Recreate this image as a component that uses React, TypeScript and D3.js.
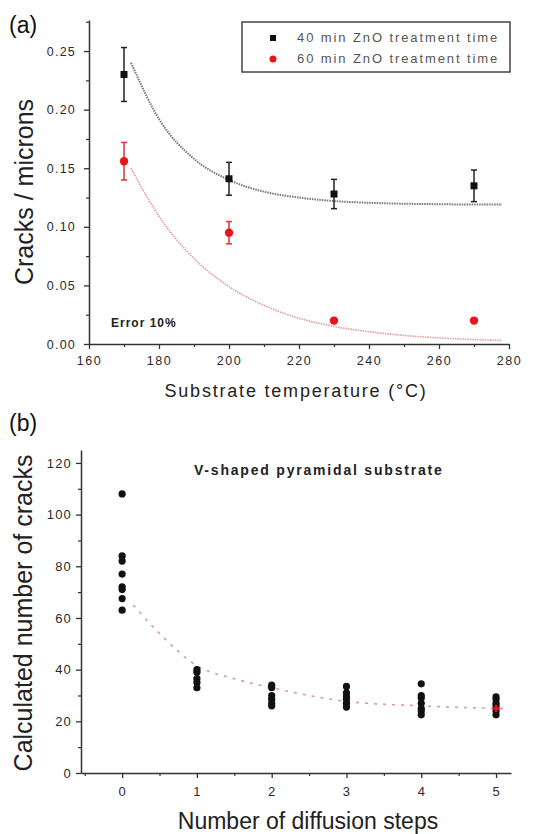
import React, { useEffect, useRef } from 'react';
import * as d3 from 'd3';

// panel (a): cracks per micron vs substrate temperature
const TEMPS = [170, 200, 230, 270];
const CRACKS_40 = [0.23, 0.141, 0.128, 0.135];
const ERR_40 = [0.023, 0.014, 0.0125, 0.0135];
const CRACKS_60 = [0.156, 0.095, 0.02, 0.02];
const ERR_60 = [0.016, 0.0095, 0, 0];

// fitted decay curves
const FIT_X = [172, 180, 190, 200, 210, 220, 230, 240, 250, 260, 270, 278];
const FIT_40 = [0.24, 0.192, 0.158, 0.14, 0.13, 0.125, 0.122, 0.1205, 0.1197, 0.1193, 0.119, 0.119];
const FIT_60 = [0.15, 0.109, 0.073, 0.049, 0.033, 0.022, 0.015, 0.0105, 0.0073, 0.0052, 0.0038, 0.003];

const LEGEND = ['40 min ZnO treatment time', '60 min ZnO treatment time'];

// panel (b): calculated cracks per diffusion step
const STEPS = [0, 1, 2, 3, 4, 5];
const CRACK_COUNTS = [
  [108, 84, 82, 77, 72, 71, 67.5, 63],
  [40, 39, 36.5, 35, 33],
  [34, 33, 30, 28.5, 27, 26],
  [33.5, 31, 29.5, 28.5, 27, 25.5],
  [34.5, 30, 29, 27, 25, 24, 22.5],
  [29.5, 28.5, 27, 26, 24, 22.5],
];
const FIT_B_X = [0.15, 0.5, 1, 1.5, 2, 2.5, 3, 3.5, 4, 4.5, 5.1];
const FIT_B_Y = [65, 54, 41.5, 36.5, 33, 30, 27.7, 26.6, 26, 25.4, 25];
const FIT_B_MARK = 25;

const FONT = '"Liberation Sans", Arial, sans-serif';

const App = () => {
  const ref = useRef<SVGSVGElement>(null);

  useEffect(() => {
    const svg = d3.select(ref.current);
    svg.selectAll('*').remove();

    const styleAxis = (g, fontSize, spacing) => {
      g.select('.domain').attr('stroke', '#333').attr('stroke-width', 1.5);
      g.selectAll('.tick line').attr('stroke', '#333').attr('stroke-width', 1.3);
      g.selectAll('text')
        .attr('fill', '#2a2a2a')
        .style('font-family', FONT)
        .style('font-size', fontSize + 'px')
        .style('letter-spacing', spacing + 'px');
    };

    /* ---------- panel (a) ---------- */
    const xA = d3.scaleLinear().domain([160, 280]).range([89, 509]);
    const yA = d3.scaleLinear().domain([0, 0.2765]).range([344, 20]);

    const gxA = svg
      .append('g')
      .attr('transform', `translate(0,${yA(0)})`)
      .call(d3.axisBottom(xA).tickValues(d3.range(160, 281, 20)).tickSize(5).tickSizeOuter(0).tickPadding(7));
    styleAxis(gxA, 12.5, 1.5);
    svg
      .append('g')
      .attr('transform', `translate(0,${yA(0)})`)
      .call(d3.axisBottom(xA).tickValues(d3.range(170, 280, 20)).tickSize(3).tickFormat(() => ''))
      .call(g => g.select('.domain').remove())
      .selectAll('line')
      .attr('stroke', '#333')
      .attr('stroke-width', 1.2);

    const gyA = svg
      .append('g')
      .attr('transform', `translate(${xA(160)},0)`)
      .call(
        d3
          .axisLeft(yA)
          .tickValues(d3.range(0, 0.26, 0.05))
          .tickFormat(d3.format('.2f'))
          .tickSize(5)
          .tickSizeOuter(0)
          .tickPadding(8)
      );
    styleAxis(gyA, 12.5, 1.2);
    svg
      .append('g')
      .attr('transform', `translate(${xA(160)},0)`)
      .call(d3.axisLeft(yA).tickValues(d3.range(0.025, 0.28, 0.05)).tickSize(3).tickFormat(() => ''))
      .call(g => g.select('.domain').remove())
      .selectAll('line')
      .attr('stroke', '#333')
      .attr('stroke-width', 1.2);

    // fit curves
    const lineA = d3
      .line<number>()
      .x((d, i) => xA(FIT_X[i]))
      .y(d => yA(d))
      .curve(d3.curveMonotoneX);
    svg
      .append('path')
      .attr('d', lineA(FIT_40))
      .attr('fill', 'none')
      .attr('stroke', '#777')
      .attr('stroke-width', 2)
      .attr('stroke-dasharray', '1.5,1');
    svg
      .append('path')
      .attr('d', lineA(FIT_60))
      .attr('fill', 'none')
      .attr('stroke', '#e59a9a')
      .attr('stroke-width', 1.6)
      .attr('stroke-dasharray', '1.5,1');

    // error bars
    const errBars = (vals, errs, color) => {
      vals.forEach((v, i) => {
        if (!errs[i]) return;
        const x = xA(TEMPS[i]);
        const y1 = yA(v - errs[i]);
        const y2 = yA(v + errs[i]);
        const g = svg.append('g').attr('stroke', color).attr('stroke-width', 1.5);
        g.append('line').attr('x1', x).attr('x2', x).attr('y1', y1).attr('y2', y2);
        g.append('line').attr('x1', x - 3).attr('x2', x + 3).attr('y1', y1).attr('y2', y1);
        g.append('line').attr('x1', x - 3).attr('x2', x + 3).attr('y1', y2).attr('y2', y2);
      });
    };
    errBars(CRACKS_40, ERR_40, '#222');
    errBars(CRACKS_60, ERR_60, '#e0303a');

    svg
      .selectAll('.sq')
      .data(CRACKS_40)
      .enter()
      .append('rect')
      .attr('x', (d, i) => xA(TEMPS[i]) - 3.5)
      .attr('y', d => yA(d) - 3.5)
      .attr('width', 7)
      .attr('height', 7)
      .attr('fill', '#111');
    svg
      .selectAll('.rd')
      .data(CRACKS_60)
      .enter()
      .append('path')
      .attr('d', d3.symbol(d3.symbolCircle, 55))
      .attr('transform', (d, i) => `translate(${xA(TEMPS[i])},${yA(d)})`)
      .attr('fill', '#e8141c');

    // legend
    svg
      .append('rect')
      .attr('x', 242)
      .attr('y', 22)
      .attr('width', 268)
      .attr('height', 50)
      .attr('fill', 'white')
      .attr('stroke', '#444')
      .attr('stroke-width', 1.5);
    svg.append('rect').attr('x', 270).attr('y', 35).attr('width', 6).attr('height', 6).attr('fill', '#111');
    svg.append('circle').attr('cx', 273).attr('cy', 59).attr('r', 3.5).attr('fill', '#e8141c');
    LEGEND.forEach((t, i) => {
      svg
        .append('text')
        .attr('x', 297)
        .attr('y', 42 + i * 21)
        .text(t)
        .attr('fill', '#555')
        .style('font-family', FONT)
        .style('font-size', '13px')
        .style('letter-spacing', '1.9px');
    });

    svg
      .append('text')
      .attr('x', 111)
      .attr('y', 327)
      .text('Error 10%')
      .attr('fill', '#222')
      .style('font-family', FONT)
      .style('font-size', '12px')
      .style('font-weight', 'bold')
      .style('letter-spacing', '1px');

    svg
      .append('text')
      .attr('x', 296)
      .attr('y', 397)
      .attr('text-anchor', 'middle')
      .text('Substrate temperature (°C)')
      .attr('fill', '#222')
      .style('font-family', FONT)
      .style('font-size', '18px')
      .style('letter-spacing', '1.8px');
    svg
      .append('text')
      .attr('transform', 'translate(33,192) rotate(-90)')
      .attr('text-anchor', 'middle')
      .text('Cracks / microns')
      .attr('fill', '#222')
      .style('font-family', FONT)
      .style('font-size', '25px');
    svg
      .append('text')
      .attr('x', 9)
      .attr('y', 33)
      .text('(a)')
      .attr('fill', '#111')
      .style('font-family', FONT)
      .style('font-size', '23px');

    /* ---------- panel (b) ---------- */
    const xB = d3.scaleLinear().domain([-0.55, 5.2]).range([81, 511]);
    const yB = d3.scaleLinear().domain([0, 125]).range([773, 450]);

    const gxB = svg
      .append('g')
      .attr('transform', `translate(0,${yB(0)})`)
      .call(
        d3
          .axisBottom(xB)
          .tickValues(STEPS)
          .tickFormat(d3.format('d'))
          .tickSize(5)
          .tickSizeOuter(0)
          .tickPadding(9)
      );
    styleAxis(gxB, 13, 1);
    svg
      .append('g')
      .attr('transform', `translate(0,${yB(0)})`)
      .call(d3.axisBottom(xB).tickValues(d3.range(-0.5, 5.1, 1)).tickSize(3).tickFormat(() => ''))
      .call(g => g.select('.domain').remove())
      .selectAll('line')
      .attr('stroke', '#333')
      .attr('stroke-width', 1.2);

    const gyB = svg
      .append('g')
      .attr('transform', `translate(${xB(-0.55)},0)`)
      .call(d3.axisLeft(yB).tickValues(d3.range(0, 121, 20)).tickSize(5).tickSizeOuter(0).tickPadding(4));
    styleAxis(gyB, 13, 1.2);
    svg
      .append('g')
      .attr('transform', `translate(${xB(-0.55)},0)`)
      .call(d3.axisLeft(yB).tickValues(d3.range(10, 121, 20)).tickSize(3).tickFormat(() => ''))
      .call(g => g.select('.domain').remove())
      .selectAll('line')
      .attr('stroke', '#333')
      .attr('stroke-width', 1.2);

    const lineB = d3
      .line<number>()
      .x((d, i) => xB(FIT_B_X[i]))
      .y(d => yB(d))
      .curve(d3.curveMonotoneX);
    svg
      .append('path')
      .attr('d', lineB(FIT_B_Y))
      .attr('fill', 'none')
      .attr('stroke', '#d99aa6')
      .attr('stroke-width', 1.6)
      .attr('stroke-dasharray', '3,6');

    STEPS.forEach((s, i) => {
      svg
        .selectAll(`.pt${i}`)
        .data(CRACK_COUNTS[i])
        .enter()
        .append('circle')
        .attr('cx', xB(s))
        .attr('cy', d => yB(d))
        .attr('r', 3.6)
        .attr('fill', '#111');
    });
    svg
      .append('path')
      .attr('d', d3.symbol(d3.symbolCross, 30))
      .attr('transform', `translate(${xB(5)},${yB(FIT_B_MARK)})`)
      .attr('fill', '#e8141c');

    svg
      .append('text')
      .attr('x', 194)
      .attr('y', 475)
      .text('V-shaped pyramidal substrate')
      .attr('fill', '#222')
      .style('font-family', FONT)
      .style('font-size', '14px')
      .style('font-weight', 'bold')
      .style('letter-spacing', '1.8px');

    svg
      .append('text')
      .attr('x', 308)
      .attr('y', 829)
      .attr('text-anchor', 'middle')
      .text('Number of diffusion steps')
      .attr('fill', '#222')
      .style('font-family', FONT)
      .style('font-size', '23px');
    svg
      .append('text')
      .attr('transform', 'translate(32,613) rotate(-90)')
      .attr('text-anchor', 'middle')
      .text('Calculated number of cracks')
      .attr('fill', '#222')
      .style('font-family', FONT)
      .style('font-size', '25px');
    svg
      .append('text')
      .attr('x', 9)
      .attr('y', 431)
      .text('(b)')
      .attr('fill', '#111')
      .style('font-family', FONT)
      .style('font-size', '23px');
  }, []);

  return (
    <svg
      ref={ref}
      width={538}
      height={834}
      style={{ position: 'absolute', left: 0, top: 0, background: 'white' }}
    />
  );
};

export default App;
